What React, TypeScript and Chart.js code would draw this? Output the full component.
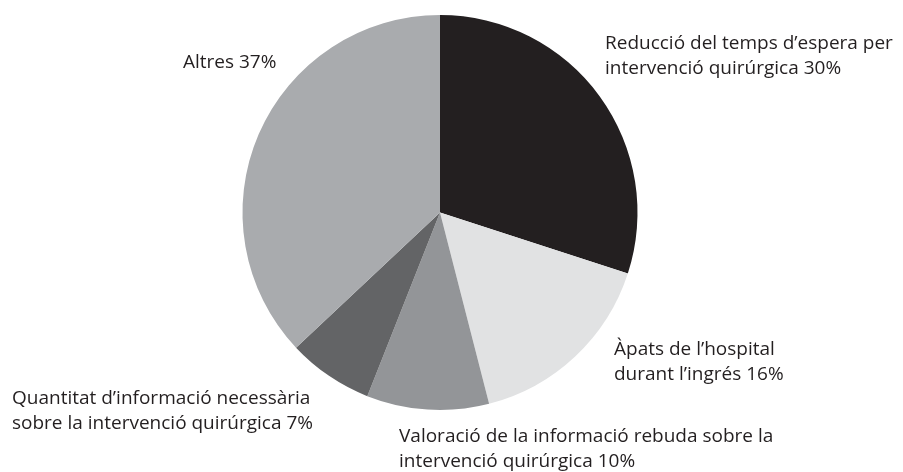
import React, { useEffect, useRef } from "react";
import { Chart, registerables } from "chart.js";

Chart.register(...registerables);

const categories = [
  ["Reducció del temps d’espera per", "intervenció quirúrgica 30%"],
  ["Àpats de l’hospital", "durant l’ingrés 16%"],
  ["Valoració de la informació rebuda sobre la", "intervenció quirúrgica 10%"],
  ["Quantitat d’informació necessària", "sobre la intervenció quirúrgica 7%"],
  ["Altres 37%"],
];
const values = [30, 16, 10, 7, 37];
const colors = ["#231f20", "#e1e2e3", "#939598", "#636466", "#a9abae"];

// label anchor positions (layout only)
const labelLayout = [
  { x: 605, y: 49, align: "left" },
  { x: 614, y: 355, align: "left" },
  { x: 399, y: 442, align: "left" },
  { x: 12, y: 404, align: "left" },
  { x: 183, y: 68, align: "left" },
];

const FONT = '19px "Open Sans", sans-serif';
const LINE_H = 25;

const labelPlugin = {
  id: "outerLabels",
  afterDraw(chart: any) {
    const ctx = chart.ctx;
    const labels = chart.data.labels as string[][];
    ctx.save();
    ctx.font = FONT;
    ctx.fillStyle = "#231f20";
    ctx.textBaseline = "alphabetic";
    labels.forEach((lines, i) => {
      const p = labelLayout[i];
      ctx.textAlign = p.align;
      lines.forEach((line, j) => {
        ctx.fillText(line, p.x, p.y + j * LINE_H);
      });
    });
    ctx.restore();
  },
};

export default function App() {
  const ref = useRef<HTMLCanvasElement>(null);
  useEffect(() => {
    document.body.style.margin = "0";
    const chart = new Chart(ref.current!, {
      type: "pie",
      data: {
        labels: categories as any,
        datasets: [
          {
            data: values,
            backgroundColor: colors,
            borderWidth: 0,
          },
        ],
      },
      options: {
        responsive: false,
        animation: false,
        layout: { padding: { left: 242.5, right: 265.5, top: 15, bottom: 62 } },
        plugins: {
          legend: { display: false },
          tooltip: { enabled: false },
        },
      },
      plugins: [labelPlugin],
    });
    return () => chart.destroy();
  }, []);
  return (
    <div style={{ width: 903, height: 472, background: "#fff" }}>
      <canvas ref={ref} width={903} height={472} style={{ display: "block" }} />
    </div>
  );
}
